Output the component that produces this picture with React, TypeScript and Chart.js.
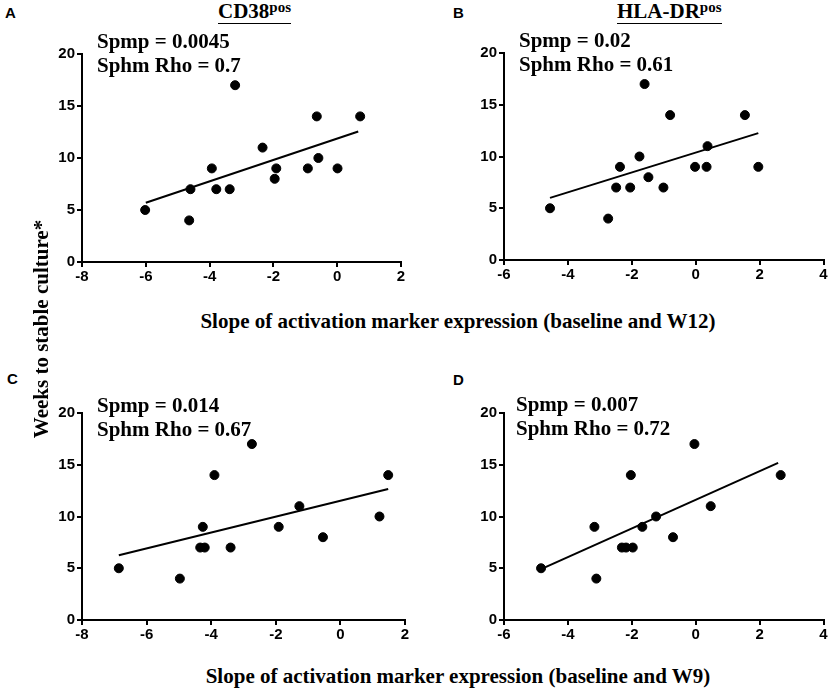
import { useEffect, useRef } from 'react';
import { Chart, registerables } from 'chart.js';

Chart.register(...registerables);

// values
const aX = [-6.02, -4.64, -4.6, -3.93, -3.79, -3.37, -3.2, -2.34, -1.96, -1.91, -0.92, -0.64, -0.59, 0.01, 0.72];
const aY = [5, 4, 7, 9, 7, 7, 17, 11, 8, 9, 9, 14, 10, 9, 14];
const aFitX = [-6.0, 0.66];
const aFitY = [5.7, 12.55];

const bX = [-4.56, -2.74, -2.49, -2.37, -2.05, -1.76, -1.6, -1.48, -1.01, -0.8, -0.02, 0.34, 0.37, 1.54, 1.96];
const bY = [5, 4, 7, 9, 7, 10, 17, 8, 7, 14, 9, 9, 11, 14, 9];
const bFitX = [-4.56, 1.96];
const bFitY = [6.0, 12.26];

const cX = [-6.86, -4.97, -4.34, -4.26, -4.2, -3.9, -3.4, -2.74, -1.91, -1.27, -0.54, 1.21, 1.48];
const cY = [5, 4, 7, 9, 7, 14, 7, 17, 9, 11, 8, 10, 14];
const cFitX = [-6.86, 1.48];
const cFitY = [6.26, 12.65];

const dX = [-4.84, -3.17, -3.11, -2.31, -2.18, -2.03, -1.97, -1.67, -1.24, -0.71, -0.04, 0.47, 2.66];
const dY = [5, 9, 4, 7, 7, 14, 7, 9, 10, 8, 17, 11, 14];
const dFitX = [-4.84, 2.58];
const dFitY = [4.91, 15.18];

const yTicks = { min: 0, max: 20, step: 5 };
const xRangeLeft = { min: -8, max: 2, step: 2 };
const xRangeRight = { min: -6, max: 4, step: 2 };

const SERIF = '"Liberation Serif", "Times New Roman", serif';
const SANS = '"Liberation Sans", Arial, sans-serif';

const Y_AXIS_W = 45;
const X_AXIS_H = 26;
const PAD_TOP = 10;

type PanelProps = {
    xs: number[];
    ys: number[];
    fitX: number[];
    fitY: number[];
    range: { min: number; max: number; step: number };
    left: number;
    top: number;
    right: number;
    bottom: number;
    padRight: number;
};

function Panel({ xs, ys, fitX, fitY, range, left, top, right, bottom, padRight }: PanelProps) {
    const canvasRef = useRef<HTMLCanvasElement>(null);

    useEffect(() => {
        if (!canvasRef.current) return;
        const axisLine = {
            display: true,
            drawOnChartArea: false,
            drawTicks: true,
            tickLength: 5,
            color: '#000',
            lineWidth: 2,
        };
        const tickFont = { family: SANS, size: 15, weight: 'bold' as const };
        const chart = new Chart(canvasRef.current, {
            type: 'scatter',
            data: {
                datasets: [
                    {
                        data: xs.map((x, i) => ({ x, y: ys[i] })),
                        backgroundColor: '#000',
                        borderColor: '#000',
                        pointRadius: 4.5,
                        pointHoverRadius: 4.5,
                        clip: false,
                    },
                    {
                        data: fitX.map((x, i) => ({ x, y: fitY[i] })),
                        showLine: true,
                        borderColor: '#000',
                        borderWidth: 2,
                        pointRadius: 0,
                        clip: false,
                    },
                ],
            },
            options: {
                responsive: true,
                maintainAspectRatio: false,
                animation: false,
                layout: { padding: { top: PAD_TOP, right: padRight, left: 0, bottom: 0 } },
                plugins: { legend: { display: false }, tooltip: { enabled: false } },
                scales: {
                    x: {
                        type: 'linear',
                        min: range.min,
                        max: range.max,
                        afterFit: (s: any) => { s.height = X_AXIS_H; },
                        grid: axisLine,
                        border: { display: true, color: '#000', width: 2 },
                        ticks: { stepSize: range.step, padding: 1, color: '#000', maxRotation: 0, font: tickFont },
                    },
                    y: {
                        type: 'linear',
                        min: yTicks.min,
                        max: yTicks.max,
                        afterFit: (s: any) => { s.width = Y_AXIS_W; },
                        grid: axisLine,
                        border: { display: true, color: '#000', width: 2 },
                        ticks: { stepSize: yTicks.step, padding: 2, color: '#000', font: tickFont },
                    },
                },
            },
        });
        return () => chart.destroy();
    }, []);

    const w = Y_AXIS_W + (right - left) + padRight;
    const h = PAD_TOP + (bottom - top) + X_AXIS_H;
    return (
        <div style={{ position: 'absolute', left: left - Y_AXIS_W, top: top - PAD_TOP, width: w, height: h }}>
            <canvas ref={canvasRef}></canvas>
        </div>
    );
}

function Stats({ left, top, p, rho }: { left: number; top: number; p: string; rho: string }) {
    return (
        <div style={{ position: 'absolute', left, top, fontFamily: SERIF, fontWeight: 'bold', fontSize: 21, lineHeight: '24px', whiteSpace: 'nowrap' }}>
            <div>Spmp = {p}</div>
            <div>Sphm Rho = {rho}</div>
        </div>
    );
}

function Letter({ left, top, text }: { left: number; top: number; text: string }) {
    return (
        <div style={{ position: 'absolute', left, top, fontFamily: SANS, fontWeight: 'bold', fontSize: 15, lineHeight: '15px' }}>
            {text}
        </div>
    );
}

function Title({ left, text }: { left: number; text: string }) {
    return (
        <div style={{ position: 'absolute', left, top: 0.5, fontFamily: SERIF, fontWeight: 'bold', fontSize: 21, lineHeight: '20px', whiteSpace: 'nowrap' }}>
            <span style={{ display: 'inline-block', borderBottom: '1.5px solid #000' }}>
                {text}
                <span style={{ fontSize: 15, position: 'relative', top: -6 }}>pos</span>
            </span>
        </div>
    );
}

export default function App() {
    const axisLabel = {
        position: 'absolute' as const,
        left: 158,
        width: 600,
        textAlign: 'center' as const,
        fontFamily: SERIF,
        fontWeight: 'bold',
        fontSize: 21,
        lineHeight: '24px',
        whiteSpace: 'nowrap' as const,
    };
    return (
        <div style={{ position: 'absolute', left: 0, top: 0, width: 829, height: 692, background: '#fff', overflow: 'hidden', color: '#000' }}>
            <Panel xs={aX} ys={aY} fitX={aFitX} fitY={aFitY} range={xRangeLeft} left={82} top={53} right={401} bottom={262} padRight={12} />
            <Panel xs={bX} ys={bY} fitX={bFitX} fitY={bFitY} range={xRangeRight} left={504} top={52} right={824} bottom={260} padRight={5} />
            <Panel xs={cX} ys={cY} fitX={cFitX} fitY={cFitY} range={xRangeLeft} left={82} top={412} right={405} bottom={620} padRight={12} />
            <Panel xs={dX} ys={dY} fitX={dFitX} fitY={dFitY} range={xRangeRight} left={504} top={412} right={824} bottom={620} padRight={5} />

            <Letter left={5} top={5} text="A" />
            <Letter left={453} top={5} text="B" />
            <Letter left={7} top={371} text="C" />
            <Letter left={453} top={372} text="D" />

            <Title left={218} text="CD38" />
            <Title left={617} text="HLA-DR" />

            <Stats left={97} top={29} p="0.0045" rho="0.7" />
            <Stats left={519} top={28} p="0.02" rho="0.61" />
            <Stats left={97} top={393} p="0.014" rho="0.67" />
            <Stats left={516} top={392} p="0.007" rho="0.72" />

            <div style={{ ...axisLabel, top: 309 }}>Slope of activation marker expression (baseline and W12)</div>
            <div style={{ ...axisLabel, top: 664 }}>Slope of activation marker expression (baseline and W9)</div>
            <div
                style={{
                    position: 'absolute',
                    left: 41 - 130,
                    top: 329 - 12,
                    width: 260,
                    textAlign: 'center',
                    transform: 'rotate(-90deg)',
                    fontFamily: SERIF,
                    fontWeight: 'bold',
                    fontSize: 21,
                    lineHeight: '24px',
                    whiteSpace: 'nowrap',
                }}
            >
                Weeks to stable culture*
            </div>
        </div>
    );
}
